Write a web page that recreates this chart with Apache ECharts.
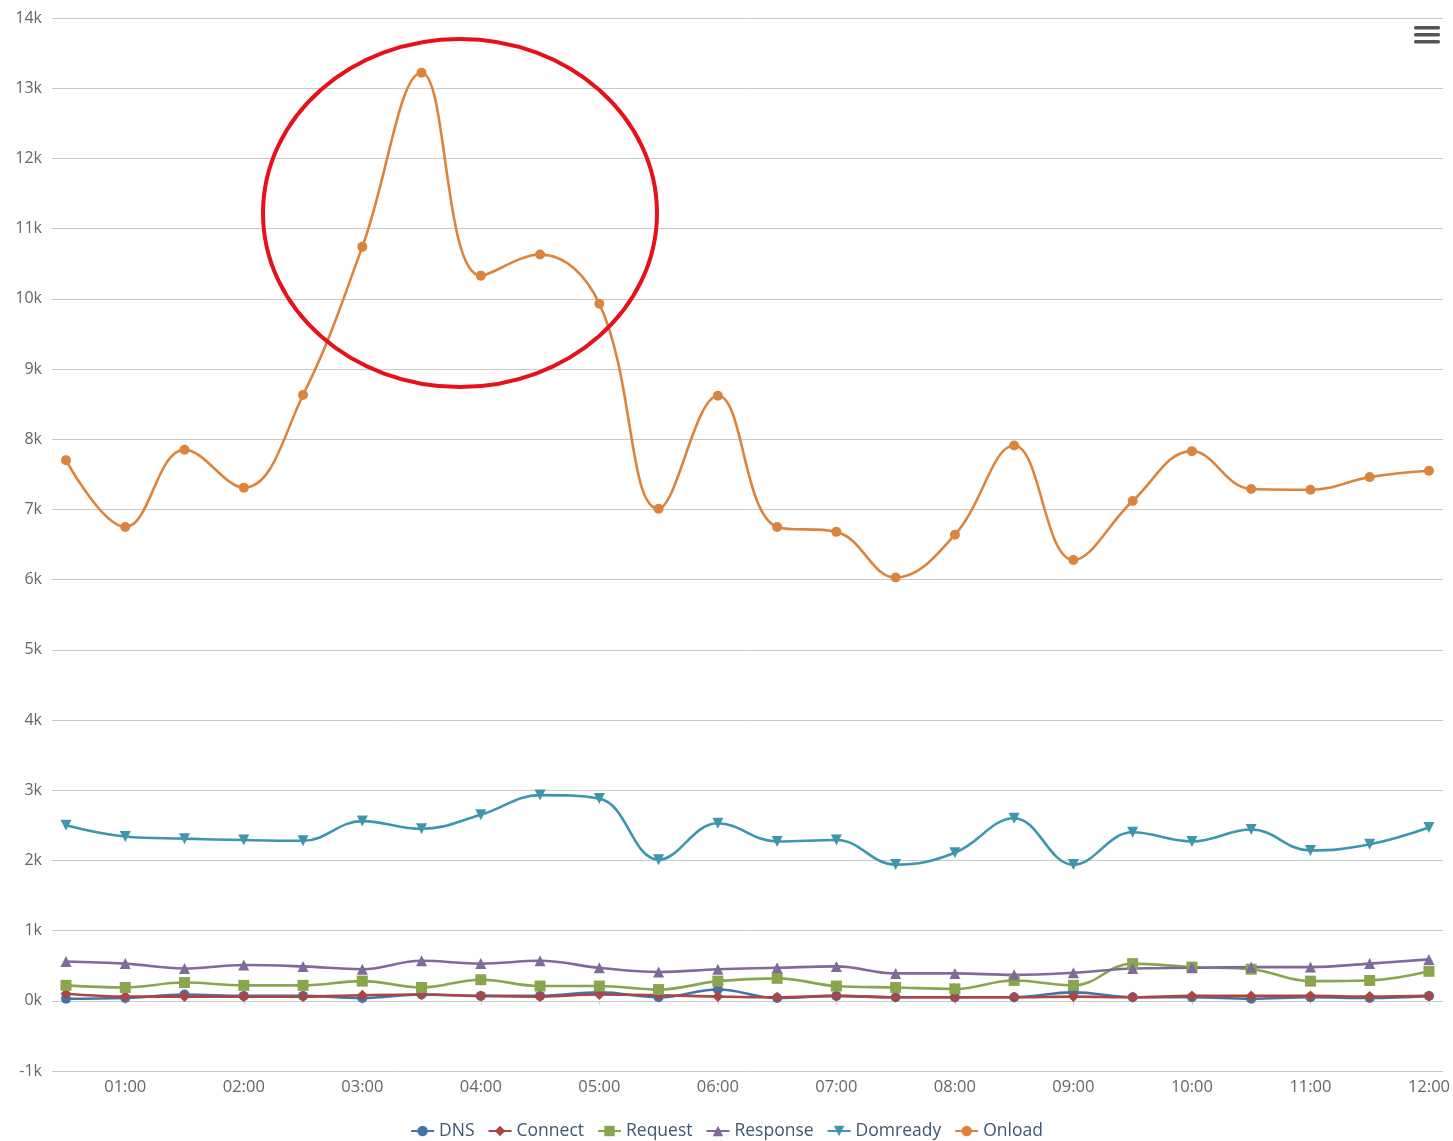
<!DOCTYPE html>
<html>
<head>
<meta charset="utf-8">
<script src="https://cdn.jsdelivr.net/npm/echarts@6/dist/echarts.min.js"></script>
<style>
  html, body { margin: 0; padding: 0; background: #fff; }
  #chart { width: 1453px; height: 1141px; }
</style>
</head>
<body>
<div id="chart"></div>
<script>
// half-hour slots 00:30 .. 12:00
var times = ["00:30", "01:00", "01:30", "02:00", "02:30", "03:00", "03:30", "04:00", "04:30", "05:00", "05:30", "06:00",
  "06:30", "07:00", "07:30", "08:00", "08:30", "09:00", "09:30", "10:00", "10:30", "11:00", "11:30", "12:00"];

var dns = [30, 40, 90, 70, 70, 40, 90, 70, 70, 120, 50, 160, 40, 70, 50, 50, 50, 120, 50, 50, 30, 50, 40, 70];
var connect = [100, 60, 60, 60, 60, 80, 90, 70, 60, 90, 80, 60, 50, 70, 50, 50, 50, 60, 50, 70, 70, 70, 60, 70];
var request = [220, 190, 260, 220, 220, 280, 190, 300, 210, 210, 160, 280, 320, 210, 190, 170, 290, 220, 530, 480, 450, 280, 290, 420];
var response = [560, 530, 460, 510, 490, 450, 570, 530, 570, 470, 410, 450, 470, 490, 390, 390, 370, 400, 460, 470, 480, 480, 530, 590];
var domready = [2500, 2340, 2310, 2290, 2280, 2560, 2450, 2650, 2930, 2880, 2010, 2530, 2270, 2290, 1940, 2110, 2600, 1940, 2400, 2270, 2440, 2140, 2230, 2470];
var onload = [7700, 6750, 7850, 7310, 8630, 10740, 13220, 10330, 10630, 9930, 7010, 8620, 6750, 6680, 6030, 6640, 7910, 6280, 7120, 7830, 7290, 7280, 7460, 7550];

var yTicks = { min: -1000, max: 14000, step: 1000 };

var chart = echarts.init(document.getElementById("chart"));

function mkSeries(name, data, color, symbol, size) {
  return {
    name: name,
    type: "line",
    xAxisIndex: 1,
    yAxisIndex: 1,
    data: data,
    smooth: 0.4,
    symbol: symbol,
    symbolSize: size,
    showAllSymbol: true,
    lineStyle: { width: 2.6, color: color },
    itemStyle: { color: color },
    emphasis: { disabled: true },
  };
}

var font = "'Open Sans', 'Noto Sans', sans-serif";
var hourOnly = function (i) { return i % 2 === 1; };

var option = {
  animation: false,
  grid: [
    { left: 52, right: 10, top: 18, bottom: 70 },
    { left: 66, right: 24, top: 18, bottom: 70 },
  ],
  xAxis: [
    { gridIndex: 0, type: "value", min: 0, max: 1, show: false },
    {
      gridIndex: 1,
      type: "category",
      data: times,
      boundaryGap: false,
      axisLine: { show: false },
      axisTick: { show: true, interval: hourOnly, length: 4, lineStyle: { color: "#C0D0E0" } },
      axisLabel: {
        interval: hourOnly,
        color: "#666",
        fontSize: 16.5,
        fontFamily: font,
        margin: 8,
      },
      splitLine: { show: false },
    },
  ],
  yAxis: [
    {
      gridIndex: 0,
      type: "value",
      min: yTicks.min,
      max: yTicks.max,
      interval: yTicks.step,
      axisLine: { show: false },
      axisTick: { show: false },
      axisLabel: {
        color: "#666",
        fontSize: 16,
        fontFamily: font,
        margin: 10,
        formatter: function (v) { return v / 1000 + "k"; },
      },
      splitLine: { lineStyle: { color: "#c8c8c8", width: 1 } },
    },
    { gridIndex: 1, type: "value", min: yTicks.min, max: yTicks.max, interval: yTicks.step, show: false },
  ],
  legend: {
    top: 1117,
    left: "center",
    itemWidth: 23,
    itemHeight: 13,
    itemGap: 13,
    textStyle: { color: "#3E576F", fontSize: 17.5, fontFamily: font },
    data: ["DNS", "Connect", "Request", "Response", "Domready", "Onload"],
  },
  series: [
    mkSeries("DNS", dns, "#4572A7", "circle", 10),
    mkSeries("Connect", connect, "#AA4643", "diamond", 11),
    mkSeries("Request", request, "#89A54E", "rect", 11),
    mkSeries("Response", response, "#80699B", "triangle", 11),
    mkSeries("Domready", domready, "#3D96AE", "path://M0,0 L10,0 L5,10 Z", 11),
    mkSeries("Onload", onload, "#DB843D", "circle", 10),
  ],
  graphic: [
    // menu button
    { type: "rect", shape: { x: 1414, y: 26, width: 26, height: 3.5, r: 1.5 }, style: { fill: "#555" } },
    { type: "rect", shape: { x: 1414, y: 33, width: 26, height: 3.5, r: 1.5 }, style: { fill: "#555" } },
    { type: "rect", shape: { x: 1414, y: 40, width: 26, height: 3.5, r: 1.5 }, style: { fill: "#555" } },
    // hand drawn highlight
    {
      type: "ellipse",
      shape: { cx: 460, cy: 213, rx: 197, ry: 174 },
      style: { fill: null, stroke: "#e8101a", lineWidth: 4 },
      z: 100,
    },
  ],
};

chart.setOption(option);
</script>
</body>
</html>
